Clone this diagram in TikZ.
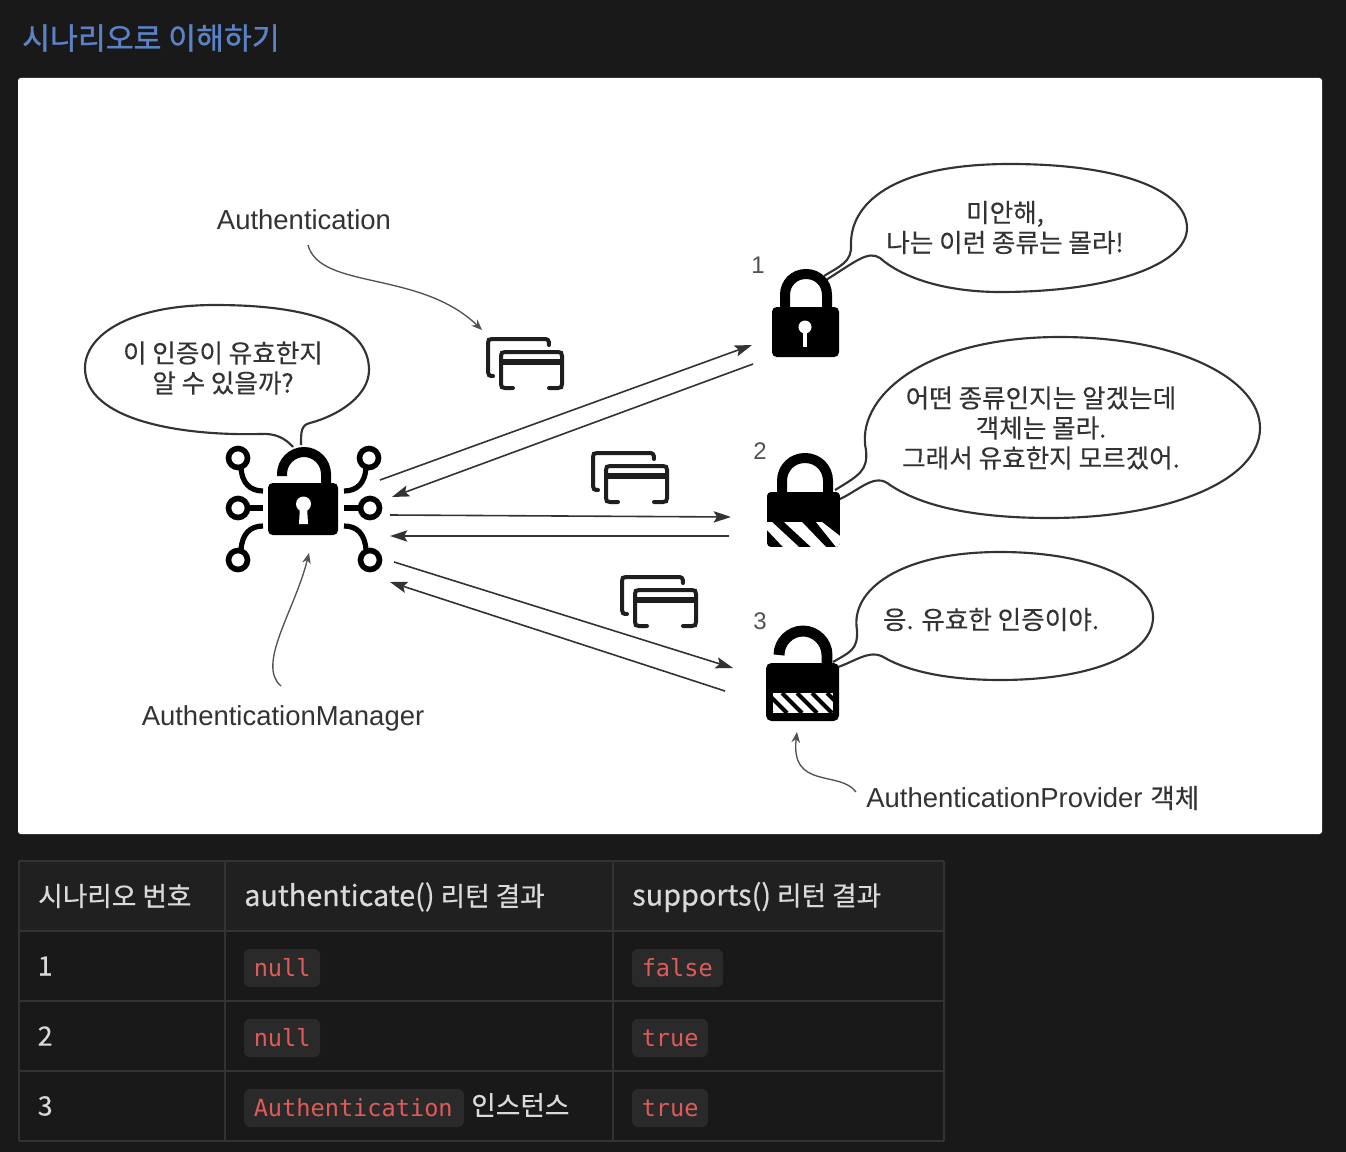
\documentclass[tikz,border=0pt]{standalone}
\usepackage{fontspec}
\setmainfont{Noto Sans CJK KR}
\newfontfamily\krfont[FakeBold=0.25]{Noto Sans CJK KR}
\newfontfamily\krhead[FakeBold=0.45]{Noto Sans CJK KR}
\newfontfamily\krcell[FakeBold=0.15]{Noto Sans CJK KR}
\newfontfamily\krbold[FakeBold=1.1]{Noto Sans CJK KR}
\newfontfamily\lafont{Liberation Sans}
\newfontfamily\codefont{DejaVu Sans Mono}
\usetikzlibrary{arrows.meta}
\definecolor{pagebg}{HTML}{191919}
\definecolor{headbg}{HTML}{202020}
\definecolor{rulec}{HTML}{333333}
\definecolor{titlec}{HTML}{5B82C6}
\definecolor{cellc}{HTML}{DADADA}
\definecolor{codebg}{HTML}{2A2A2A}
\definecolor{codec}{HTML}{E05A5A}
\definecolor{inkc}{HTML}{1E1E1E}
\definecolor{scanc}{HTML}{333333}
\tikzset{
 x=0.75pt,y=-0.75pt,
 bubble/.style={draw=scanc,line width=1.6pt,line join=round},
 bubtext/.style={font=\krfont\fontsize{19.2}{22.5}\selectfont,text=scanc,align=center,inner sep=0pt},
 latext/.style={font=\lafont\fontsize{20.6}{24}\selectfont,text=scanc,inner sep=0pt},
 numtext/.style={font=\lafont\fontsize{18}{22}\selectfont,text=scanc!85!white,inner sep=0pt},
 flowarrow/.style={draw=scanc,line width=1.2pt,-{Stealth[length=13pt,width=8.5pt,inset=2.5pt]}},
 pointer/.style={draw=scanc!85!white,line width=1pt,-{Stealth[length=8pt,width=6.5pt]}},
 shackle/.style={draw=black,line width=7.5pt},
 lead/.style={draw=black,line width=3.9pt,line cap=butt},
 ringc/.style={draw=black,line width=4.2pt},
 cardline/.style={draw=inkc,line width=3pt,line cap=round},
 cell/.style={anchor=west,font=\krcell\fontsize{20}{24}\selectfont,text=cellc,inner sep=0pt},
 headcell/.style={anchor=west,font=\krhead\fontsize{20}{24}\selectfont,text=cellc,inner sep=0pt},
 codebox/.style={fill=codebg,rounded corners=4.5pt},
 code/.style={anchor=west,font=\codefont\fontsize{17.7}{22}\selectfont,text=codec,inner sep=0pt},
 tabline/.style={draw=rulec,line width=1.5pt},
}
\newcommand{\cardglyph}[2]{%
 \begin{scope}[shift={(#1,#2)}]
  \draw[cardline] (549,345) .. controls (549,340) and (548,339) .. (544,339) -- (492,339) .. controls (489,339) and (488,340) .. (488,343) -- (488,372) .. controls (488,375) and (489,376) .. (493,376);
  \draw[cardline] (513,388) -- (505,388) .. controls (502,388) and (501,387) .. (501,384) -- (501,356) .. controls (501,353) and (502,352) .. (505,352) -- (558,352) .. controls (561,352) and (562,353) .. (562,356) -- (562,384) .. controls (562,387) and (561,388) .. (558,388) -- (549,388);
  \fill[inkc] (501,359) rectangle (562,365);
 \end{scope}}
\newcommand{\wlat}[1]{{\fontsize{21.6}{24}\selectfont #1}}
\begin{document}
\begin{tikzpicture}
\useasboundingbox (0,0) rectangle (1346,1152);
\fill[pagebg] (0,0) rectangle (1346,1152);
\node[anchor=west,inner sep=0pt,font=\krbold\fontsize{22.7}{26}\selectfont,text=titlec] (title) at (22,38) {시나리오로 이해하기};
\fill[white,rounded corners=2pt] (18,78) rectangle (1322,834);

% speech bubbles
\draw[bubble] (293,447) .. controls (285,438) and (275,433) .. (260,434) .. controls (180,436) and (85,420) .. (85,368) .. controls (85,335) and (130,305) .. (215,305) .. controls (310,305) and (369,325) .. (369,370) .. controls (369,395) and (340,415) .. (310,423) .. controls (301,425) and (301,432) .. (301,445);
\draw[bubble] (824,276) .. controls (840,266) and (852,262) .. (851,245) .. controls (850,205) and (890,164) .. (1010,164) .. controls (1120,164) and (1187,190) .. (1187,228) .. controls (1187,265) and (1110,292) .. (1000,292) .. controls (950,292) and (905,280) .. (880,258) .. controls (868,250) and (855,262) .. (826,280);
\draw[bubble] (835,490) .. controls (860,475) and (868,470) .. (866,450) .. controls (855,400) and (920,337) .. (1060,337) .. controls (1180,337) and (1260,380) .. (1260,428) .. controls (1260,480) and (1170,518) .. (1050,518) .. controls (970,518) and (920,505) .. (890,485) .. controls (875,472) and (860,490) .. (838,500);
\draw[bubble] (833,662) .. controls (850,652) and (858,650) .. (857,630) .. controls (850,590) and (900,552) .. (1000,552) .. controls (1090,552) and (1153,580) .. (1153,617) .. controls (1153,655) and (1090,680) .. (1000,680) .. controls (950,680) and (910,672) .. (885,658) .. controls (870,648) and (855,662) .. (835,668);

\node[bubtext] (q) at (223,368) {이 인증이 유효한지\\알 수 있을까?};
\node[bubtext] (r1) at (1005,227.5) {미안해,\\나는 이런 종류는 몰라!};
\node[bubtext] (r2) at (1041,428) {어떤 종류인지는 알겠는데\\객체는 몰라.\\그래서 유효한지 모르겠어.};
\node[bubtext] (r3) at (991,619.5) {응. 유효한 인증이야.};

% labels
\node[latext] (lauth) at (304,220) {Authentication};
\node[latext] (lman) at (283,718) {AuthenticationManager};
\node[latext,anchor=west] (lprov) at (866,798) {AuthenticationProvider {\krfont\fontsize{20}{24}\selectfont 객체}};
\node[numtext] (n1) at (758,265) {1};
\node[numtext] (n2) at (760,451) {2};
\node[numtext] (n3) at (760,621) {3};

% central lock
\draw[shackle] (282,476) -- (282,474) .. controls (282,462) and (292,452) .. (304,452) .. controls (316,452) and (326,462) .. (326,474) -- (326,486);
\fill[black,rounded corners=3.5pt] (268,483) rectangle (338,535);
\fill[white] (303.5,504) circle[radius=7.5];
\fill[white] (300,506) -- (307,506) -- (308,524) -- (299,524) -- cycle;
\foreach \cx/\cy in {238/458,238/508,238/560,369/458,370/508,370/560}{\draw[ringc] (\cx,\cy) circle[radius=9.5];}
\draw[lead] (241,468) .. controls (242,483) and (250,491) .. (263,491);
\draw[lead] (248,508) -- (263,508);
\draw[lead] (263,526) .. controls (250,526) and (242,534) .. (241,550);
\draw[lead] (366,468) .. controls (365,483) and (357,491) .. (344,491);
\draw[lead] (344,508) -- (360,508);
\draw[lead] (344,526) .. controls (357,526) and (365,534) .. (366,550);

% lock 1
\draw[shackle] (785,310) -- (785,295) .. controls (785,283) and (794,274) .. (806,274) .. controls (818,274) and (827,283) .. (827,295) -- (827,310);
\fill[black,rounded corners=3.5pt] (772,307) rectangle (839,357);
\fill[white] (805,327) circle[radius=6.5];
\fill[white] (803,329) rectangle (807,347);

% lock 2
\draw[shackle] (782,495) -- (782,481) .. controls (782,468) and (792,458) .. (805,458) .. controls (818,458) and (828,468) .. (828,481) -- (828,495);
\begin{scope}
 \clip[rounded corners=3pt] (767,492) -- (840,492) -- (840,547) -- (767,547) -- cycle;
 \fill[black] (767,492) rectangle (840,547);
 \fill[white] (767,522) -- (772,522) -- (799,547) -- (783,547) -- (767,530) -- cycle;
 \fill[white] (784,522) -- (802,522) -- (826,547) -- (811,547) -- cycle;
 \fill[white] (816,522) -- (822,522) -- (840,536) -- (840,547) -- (836,547) -- cycle;
\end{scope}

% lock 3
\draw[black,line width=8.2pt] (779,655) .. controls (779,642) and (790,631) .. (803,631) .. controls (816,631) and (827,642) .. (827,655) -- (827,665);
\fill[black,rounded corners=4pt] (766,663) rectangle (839,721);
\begin{scope}
 \clip (773,693) rectangle (833,713);
 \fill[white] (773,693) rectangle (833,713);
 \foreach \d in {0,15,...,90}{\draw[black,line width=3pt] (\d+752,693) -- (\d+772,713);}
\end{scope}

% cards
\cardglyph{0}{0}
\cardglyph{105}{114}
\cardglyph{134}{238}

% flow arrows
\coordinate (a1s) at (380,480); \coordinate (a1e) at (752,345);
\coordinate (a2s) at (753,364); \coordinate (a2e) at (392,497);
\coordinate (a3s) at (390,515); \coordinate (a3e) at (731,517);
\coordinate (a4s) at (729,536); \coordinate (a4e) at (390,536);
\coordinate (a5s) at (394,562); \coordinate (a5e) at (733,668);
\coordinate (a6s) at (725,691); \coordinate (a6e) at (390,582);
\foreach \k in {1,...,6}{\draw[flowarrow] (a\k s) -- (a\k e);}

% pointers
\coordinate (p1s) at (308,245); \coordinate (p1e) at (482,330);
\coordinate (p2s) at (281,686); \coordinate (p2e) at (309,553);
\coordinate (p3s) at (856,792); \coordinate (p3e) at (797,732);
\draw[pointer] (p1s) .. controls (320,290) and (420,270) .. (p1e);
\draw[pointer] (p2s) .. controls (256,665) and (295,610) .. (p2e);
\draw[pointer] (p3s) .. controls (840,770) and (790,790) .. (p3e);

% table
\fill[headbg] (19,861) rectangle (944,931);
\foreach \yy in {861,931,1001,1071,1141}{\draw[tabline] (19,\yy) -- (944,\yy);}
\foreach \xx in {19,225,613,944}{\draw[tabline] (\xx,861) -- (\xx,1141);}
\node[headcell] (h1) at (38,896) {시나리오 번호};
\node[headcell] (h2) at (244,897) {\wlat{authenticate()} 리턴 결과};
\node[headcell] (h3) at (632,897) {\wlat{supports()} 리턴 결과};
\node[cell] (c1) at (37.5,966) {1};
\node[cell] (c2) at (37.5,1036) {2};
\node[cell] (c3) at (37.5,1106) {3};
\fill[codebox] (244,949) rectangle (320,987);
\fill[codebox] (244,1019) rectangle (320,1057);
\fill[codebox] (244,1089) rectangle (464,1127);
\fill[codebox] (632,949) rectangle (723,987);
\fill[codebox] (632,1019) rectangle (708,1057);
\fill[codebox] (632,1089) rectangle (708,1127);
\node[code] (k1) at (253.5,968) {null};
\node[code] (k2) at (253.5,1038) {null};
\node[code] (k3) at (253.5,1108) {Authentication};
\node[code] (k4) at (641.5,968) {false};
\node[code] (k5) at (641.5,1038) {true};
\node[code] (k6) at (641.5,1108) {true};
\node[cell] (k7) at (471,1105) {인스턴스};
\end{tikzpicture}
\end{document}
